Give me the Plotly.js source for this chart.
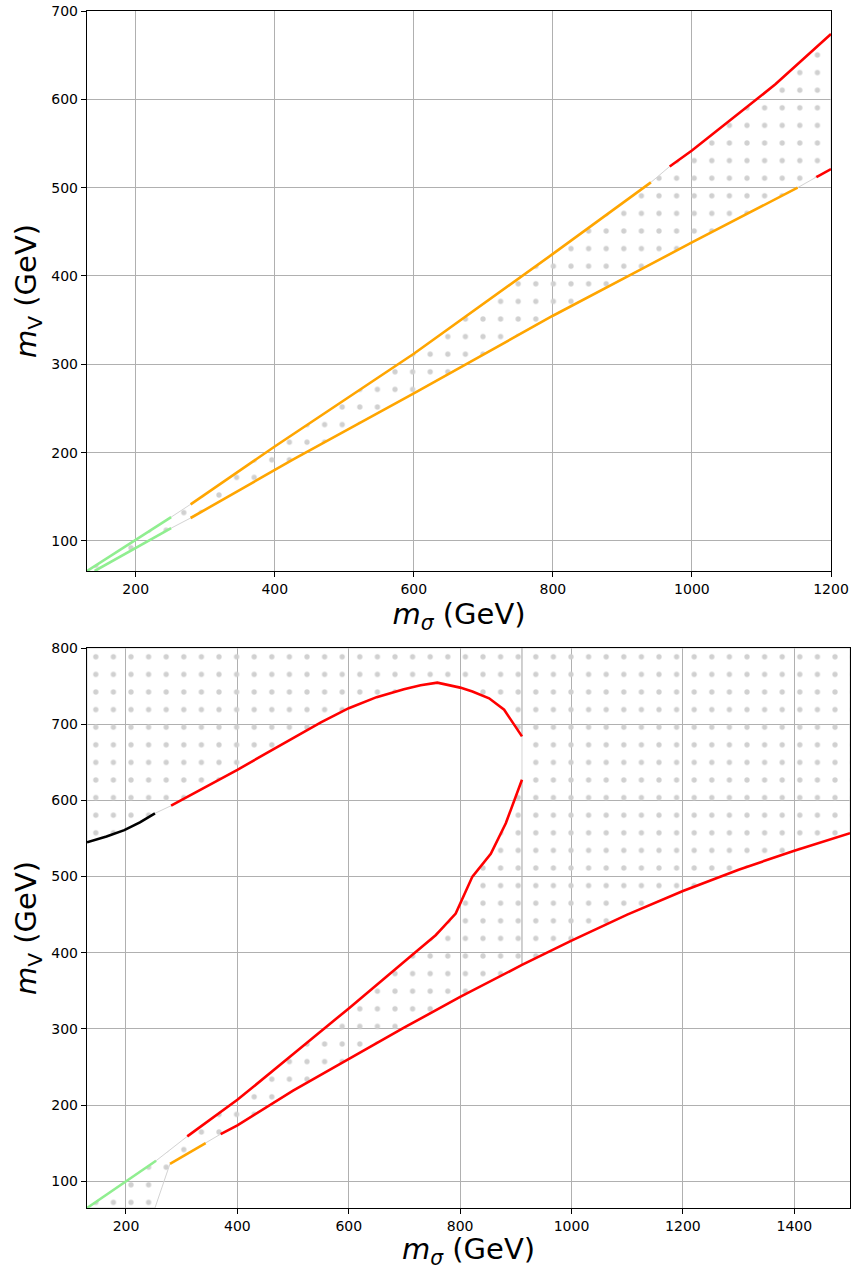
<!DOCTYPE html>
<html>
<head>
<meta charset="utf-8">
<script src="https://cdn.plot.ly/plotly-3.0.1.min.js"></script>
<style>html,body{margin:0;padding:0;background:#fff;}#chart{width:853px;height:1270px;}</style>
</head>
<body>
<div id="chart"></div>
<script>
// ---------- TOP PANEL DATA (m_sigma, m_V in GeV) ----------
const topUpGreenX  = [130, 200, 251];
const topUpGreenY  = [66, 101, 127];
const topUpOrangeX = [279, 400, 600, 800, 941];
const topUpOrangeY = [141.5, 207, 312, 425, 506];
const topUpRedX    = [968, 1000, 1093, 1120, 1200];
const topUpRedY    = [524, 542, 600, 617, 674];

const topLoGreenX  = [141, 200, 251];
const topLoGreenY  = [66, 92, 114.5];
const topLoOrangeX = [279, 426, 600, 800, 928, 1000, 1152];
const topLoOrangeY = [126, 192, 267, 355, 408, 438, 500];
const topLoRedX    = [1179, 1200];
const topLoRedY    = [512, 521];

// ---------- BOTTOM PANEL DATA ----------
const botArcBlackX = [130, 165, 197, 225, 252];
const botArcBlackY = [545, 552.5, 561, 571, 583];
const botArcRedX   = [281, 350, 400, 450, 502, 550, 600, 650, 699, 729, 759, 800, 822, 852, 879, 911];
const botArcRedY   = [593, 620, 640, 661, 683, 702.5, 721, 735.5, 746, 751, 754.5, 748, 743, 734, 719, 684];

const botGreenX    = [130, 254];
const botGreenY    = [65, 127];
const botRiseRedX  = [310, 400, 502, 600, 717, 756, 765, 792, 822, 855, 882, 911];
const botRiseRedY  = [159, 207, 268, 327, 399, 423, 430, 451.5, 500, 530, 570, 627];

const botSteepX    = [252, 279];
const botSteepY    = [65, 123];
const botLoOrangeX = [279, 343];
const botLoOrangeY = [123, 150];
const botLoRedX    = [370, 400, 500, 600, 700, 800, 837, 911, 1000, 1100, 1200, 1300, 1400, 1500];
const botLoRedY    = [162, 173.5, 219, 261, 302, 342, 356, 384, 416, 450, 481, 509, 534, 557];

// divider at m_sigma ~ 911 (edge of hatched region)
const dividerX     = [911, 911];
const dividerLowY  = [384, 627];
const dividerHighY = [684, 800];

// axis ranges / ticks
const topXRange = [130, 1200], topYRange = [66, 700];
const botXRange = [130, 1500], botYRange = [65, 800];
const topXTicks = [200, 400, 600, 800, 1000, 1200];
const topYTicks = [100, 200, 300, 400, 500, 600, 700];
const botXTicks = [200, 400, 600, 800, 1000, 1200, 1400];
const botYTicks = [100, 200, 300, 400, 500, 600, 700, 800];

const GREEN = '#90ee90', ORANGE = '#ffa500', RED = '#ff0000', BLACK = '#000000';
const HATCH = '#d0d0d0';

function seg(x, y, color, xa, ya) {
  return {x: x, y: y, type: 'scatter', mode: 'lines', line: {color: color, width: 2.6},
          xaxis: xa, yaxis: ya, hoverinfo: 'skip', showlegend: false, cliponaxis: true};
}
function hatch(x, y, xa, ya) {
  return {x: x, y: y, type: 'scatter', mode: 'lines', fill: 'toself',
          fillcolor: 'rgba(0,0,0,0)',
          fillpattern: {shape: '.', fgcolor: HATCH, bgcolor: 'rgba(0,0,0,0)', size: 17.6, solidity: 0.07},
          line: {color: '#d3d3d3', width: 1}, xaxis: xa, yaxis: ya, hoverinfo: 'skip', showlegend: false};
}
const rev = a => a.slice().reverse();

// top hatched polygon
const topPolyX = [].concat(topUpGreenX, topUpOrangeX, topUpRedX, rev(topLoRedX), rev(topLoOrangeX), rev(topLoGreenX));
const topPolyY = [].concat(topUpGreenY, topUpOrangeY, topUpRedY, rev(topLoRedY), rev(topLoOrangeY), rev(topLoGreenY));

// bottom hatched polygon
const botPolyX = [].concat([botXRange[0]], botArcBlackX, botArcRedX, rev(botRiseRedX), rev(botGreenX),
                           botSteepX, botLoOrangeX, botLoRedX, [botXRange[1], botXRange[1], botXRange[0]]);
const botPolyY = [].concat([botYRange[1]], botArcBlackY, botArcRedY, rev(botRiseRedY), rev(botGreenY),
                           botSteepY, botLoOrangeY, botLoRedY, [botLoRedY[botLoRedY.length-1], botYRange[1], botYRange[1]]);

const divider = y => ({x: dividerX, y: y, type: 'scatter', mode: 'lines', line: {color: '#b0b0b0', width: 1.2},
                       xaxis: 'x2', yaxis: 'y2', hoverinfo: 'skip', showlegend: false});

const data = [
  hatch(topPolyX, topPolyY, 'x', 'y'),
  seg(topUpGreenX, topUpGreenY, GREEN, 'x', 'y'),
  seg(topUpOrangeX, topUpOrangeY, ORANGE, 'x', 'y'),
  seg(topUpRedX, topUpRedY, RED, 'x', 'y'),
  seg(topLoGreenX, topLoGreenY, GREEN, 'x', 'y'),
  seg(topLoOrangeX, topLoOrangeY, ORANGE, 'x', 'y'),
  seg(topLoRedX, topLoRedY, RED, 'x', 'y'),

  hatch(botPolyX, botPolyY, 'x2', 'y2'),
  divider(dividerLowY),
  divider(dividerHighY),
  seg(botArcBlackX, botArcBlackY, BLACK, 'x2', 'y2'),
  seg(botArcRedX, botArcRedY, RED, 'x2', 'y2'),
  seg(botGreenX, botGreenY, GREEN, 'x2', 'y2'),
  seg(botRiseRedX, botRiseRedY, RED, 'x2', 'y2'),
  seg(botLoOrangeX, botLoOrangeY, ORANGE, 'x2', 'y2'),
  seg(botLoRedX, botLoRedY, RED, 'x2', 'y2')
];

function axisBase(range, ticks) {
  return {range: range, tickmode: 'array', tickvals: ticks, ticktext: ticks.map(String),
          ticks: 'outside', ticklen: 5, tickwidth: 1, tickcolor: '#000',
          showline: true, linecolor: '#000', linewidth: 1.2, mirror: true,
          showgrid: true, gridcolor: '#b0b0b0', gridwidth: 1, zeroline: false,
          tickfont: {family: 'DejaVu Sans', size: 14, color: '#000'}, fixedrange: true};
}
const xTitle = '<i>m</i><sub><i>σ</i></sub> (GeV)';
const yTitle = '<i>m</i><sub>V</sub> (GeV)';
const titleFont = {family: 'DejaVu Sans', size: 29, color: '#000'};

const W = 853, H = 1270;
const layout = {
  width: W, height: H, margin: {l: 0, r: 0, t: 0, b: 0},
  paper_bgcolor: '#fff', plot_bgcolor: '#fff', showlegend: false,
  font: {family: 'DejaVu Sans', size: 14, color: '#000'},
  xaxis: Object.assign(axisBase(topXRange, topXTicks), {domain: [87/W, 831/W], anchor: 'y',
          title: {text: xTitle, font: titleFont, standoff: 2}}),
  yaxis: Object.assign(axisBase(topYRange, topYTicks), {domain: [1 - 571/H, 1 - 11/H], anchor: 'x',
          title: {text: yTitle, font: titleFont, standoff: 6}}),
  xaxis2: Object.assign(axisBase(botXRange, botXTicks), {domain: [87/W, 850/W], anchor: 'y2',
          title: {text: xTitle, font: titleFont, standoff: 2}}),
  yaxis2: Object.assign(axisBase(botYRange, botYTicks), {domain: [1 - 1208/H, 1 - 648/H], anchor: 'x2',
          title: {text: yTitle, font: titleFont, standoff: 6}})
};

Plotly.newPlot('chart', data, layout, {staticPlot: true, displayModeBar: false});
</script>
</body>
</html>
